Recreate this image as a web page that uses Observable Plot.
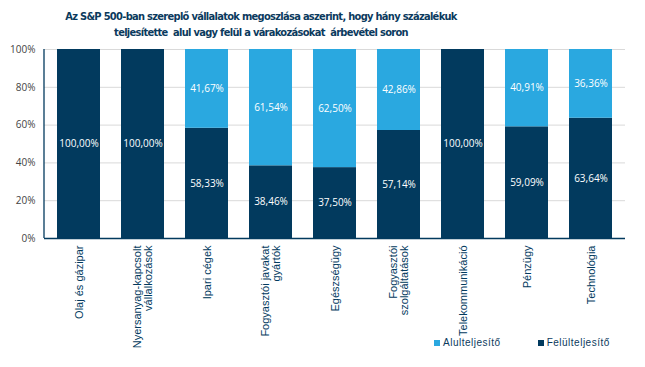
<!DOCTYPE html>
<html><head><meta charset="utf-8">
<script src="https://cdn.jsdelivr.net/npm/d3@7"></script>
<script src="https://cdn.jsdelivr.net/npm/@observablehq/plot@0.6"></script>
<style>
body{margin:0;background:#fff;}
#wrap{position:relative;width:645px;height:367px;overflow:hidden;}
#title{position:absolute;left:0;top:9px;width:522px;text-align:center;font:bold 11px "DejaVu Sans Condensed","DejaVu Sans",sans-serif;letter-spacing:-0.7px;color:#0b3a5d;line-height:16px;}
#legend{position:absolute;top:337px;left:434px;font:10px "Liberation Sans",Arial,sans-serif;letter-spacing:0.5px;color:#0b3a5d;display:flex;gap:0;}
#legend span.sw{display:inline-block;width:6px;height:6px;margin-right:3px;vertical-align:middle;}
#legend .it{display:flex;align-items:center;}
</style></head>
<body><div id="wrap">
<div id="title">Az S&amp;P 500-ban szereplő vállalatok megoszlása aszerint, hogy hány százalékuk<br>teljesítette &nbsp;alul vagy felül a várakozásokat &nbsp;árbevétel soron</div>
<div id="chart"></div>
<div id="legend"></div>
</div>
<script>
const categories = ["Olaj és gázipar","Nyersanyag-kapcsolt\nvállalkozások","Ipari cégek","Fogyasztói javakat\ngyártók","Egészségügy","Fogyasztói\nszolgáltatások","Telekommunikáció","Pénzügy","Technológia"];
const felul = [100,100,58.33,38.46,37.50,57.14,100,59.09,63.64];
const alul = [0,0,41.67,61.54,62.50,42.86,0,40.91,36.36];
const seriesNames = ["Felülteljesítő","Alulteljesítő"];
const yTicks = [0,20,40,60,80,100];

const navy = "#023a5e", light = "#2aa8e0";
const data = [];
categories.forEach((c,i)=>{
  data.push({cat:c, series:seriesNames[0], value:felul[i]});
  data.push({cat:c, series:seriesNames[1], value:alul[i]});
});
const fmt = v => v.toFixed(2).replace(".", ",") + "%";

const chart = Plot.plot({
  width:645, height:367,
  marginLeft:44, marginRight:20, marginTop:49, marginBottom:129,
  style:{fontFamily:"'Open Sans',sans-serif", background:"#fff"},
  x:{domain:categories, paddingInner:0.33, paddingOuter:0.19, label:null},
  y:{domain:[0,100], label:null},
  color:{domain:seriesNames, range:[navy, light]},
  marks:[
    Plot.gridY(yTicks.slice(1), {stroke:"#d9d9d9", strokeOpacity:1}),
    Plot.barY(data, {x:"cat", y:"value", fill:"series", order:seriesNames}),
    Plot.text(data.filter(d=>d.value>0), Plot.stackY({x:"cat", y:"value", z:"series", order:seriesNames, text:d=>fmt(d.value), fill:"white", fontSize:10, fontFamily:"'Open Sans',sans-serif"})),
    Plot.ruleY([0], {stroke:navy, strokeWidth:1.3}),
    Plot.axisY({ticks:yTicks, tickFormat:d=>d+"%", tickSize:0, tickPadding:9, fontSize:10, fill:"#444", fontFamily:"'Open Sans',sans-serif", label:null}),
    Plot.axisX({tickRotate:-90, tickSize:0, tickPadding:7, fontSize:11, fill:navy, fontFamily:"'Liberation Sans',Arial,sans-serif", label:null})
  ]
});
document.getElementById("chart").appendChild(chart);
// left axis line
const svg = d3.select(chart);
svg.append("line").attr("x1",44).attr("x2",44).attr("y1",49).attr("y2",238).attr("stroke",navy).attr("stroke-width",1.3);

const lg = document.getElementById("legend");
[[seriesNames[1], light],[seriesNames[0], navy]].forEach(([n,c],i)=>{
  const d = document.createElement("div"); d.className="it"; d.style.marginRight = i===0 ? "37px" : "0";
  d.innerHTML = `<span class="sw" style="background:${c}"></span>${n}`;
  lg.appendChild(d);
});
</script>
</body></html>
